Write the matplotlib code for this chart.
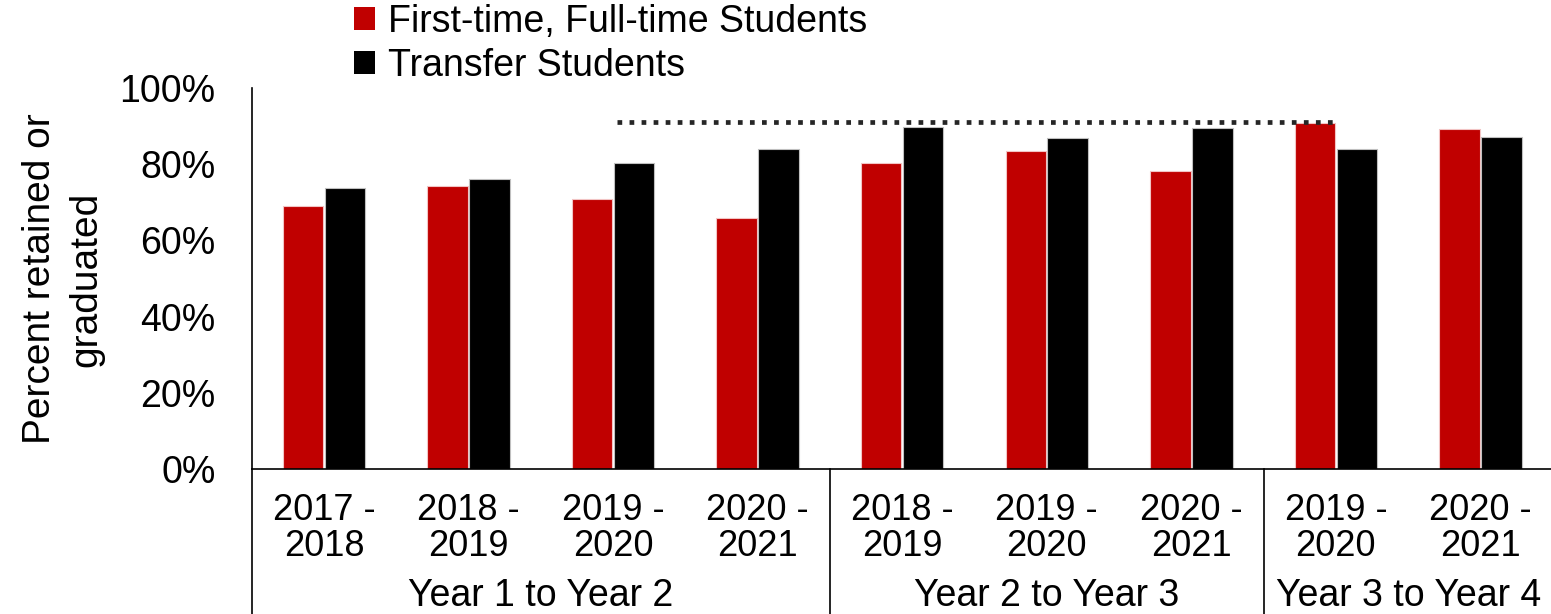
import matplotlib
matplotlib.use("Agg")
import matplotlib.pyplot as plt
import matplotlib.transforms as mtransforms
from matplotlib.patches import Patch
from matplotlib.ticker import PercentFormatter

plt.rcParams["font.family"] = ["Liberation Sans", "DejaVu Sans"]

# data
periods = ["2017 -\n2018", "2018 -\n2019", "2019 -\n2020", "2020 -\n2021",
           "2018 -\n2019", "2019 -\n2020", "2020 -\n2021",
           "2019 -\n2020", "2020 -\n2021"]
groups = ["Year 1 to Year 2", "Year 2 to Year 3", "Year 3 to Year 4"]
group_sizes = [4, 3, 2]
first_time = [0.691, 0.744, 0.709, 0.658, 0.802, 0.834, 0.782, 0.909, 0.892]
transfer = [0.737, 0.760, 0.802, 0.841, 0.898, 0.868, 0.895, 0.841, 0.871]
series_names = ["First-time, Full-time Students", "Transfer Students"]
target_rate = 0.91
target_span = [2.03, 7.01]

RED = "#c00000"
BLACK = "#000000"
FS = 27

fig = plt.figure(figsize=(15.51, 6.14), dpi=100)
ax = fig.add_axes([251.7 / 1551, 145 / 614, 1301 / 1551, 381 / 614])

x = list(range(len(periods)))
width = 0.28
ax.bar([i - 0.145 for i in x], first_time, width, color=RED, edgecolor="#f2c4c4", linewidth=0.8)
ax.bar([i + 0.145 for i in x], transfer, width, color=BLACK, edgecolor="#bfbfbf", linewidth=0.8)

ax.plot(target_span, [target_rate, target_rate], color="#262626", linewidth=3.4,
        linestyle=(0, (1.0, 1.55)), dash_capstyle="butt")

ax.set_xlim(-0.5, len(periods) - 0.5)
ax.set_ylim(0, 1.0)
ax.yaxis.set_major_formatter(PercentFormatter(1.0, decimals=0))
ax.set_yticks([0, 0.2, 0.4, 0.6, 0.8, 1.0])
ax.set_xticks(x)
ax.set_xticklabels(periods, linespacing=1.05)
ax.tick_params(axis="y", length=0, pad=26, labelsize=FS)
ax.tick_params(axis="x", length=0, pad=17, labelsize=26)

for side in ["top", "right"]:
    ax.spines[side].set_visible(False)
ax.spines["left"].set_linewidth(1.2)
ax.spines["bottom"].set_linewidth(1.2)

# vertical lines running down through the category labels
bottom_ax = -(145 / 614) / (381 / 614)
blend = mtransforms.blended_transform_factory(ax.transData, ax.transAxes)
edges = [-0.5]
for n in group_sizes:
    edges.append(edges[-1] + n)
for e in edges[:-1]:
    ax.plot([e, e], [0, bottom_ax], color="black", linewidth=1.2, transform=blend, clip_on=False)

# group labels
label_tf = mtransforms.blended_transform_factory(ax.transData, fig.transFigure)
start = 0
for name, n in zip(groups, group_sizes):
    center = start + (n - 1) / 2
    ax.text(center, 18 / 614, name, transform=label_tf, ha="center", va="center", fontsize=FS)
    start += n

fig.text(63 / 1551, 1 - 279 / 614, "Percent retained or\ngraduated", rotation=90,
         ha="center", va="center", fontsize=28, linespacing=1.35)

handles = [Patch(facecolor=RED), Patch(facecolor=BLACK)]
fig.legend(handles, series_names, loc="upper left", bbox_to_anchor=(354 / 1551, 1 - 4 / 614),
           frameon=False, fontsize=FS, handlelength=0.55, handleheight=0.55,
           handletextpad=0.35, labelspacing=0.2, borderpad=0, borderaxespad=0)

fig.savefig("out.png", dpi=100)
